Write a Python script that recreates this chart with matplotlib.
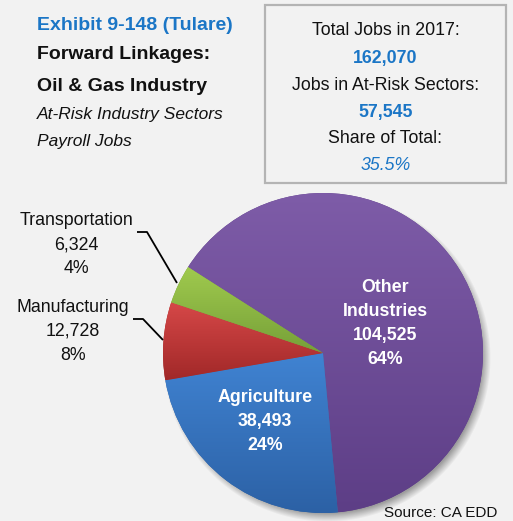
#!/usr/bin/env python3
"""
Pie chart of payroll jobs in at-risk sectors (forward linkages, oil & gas),
Tulare county, with a summary box on the top right.
"""
import numpy as np
import matplotlib
matplotlib.use('Agg')
import matplotlib.pyplot as plt
from matplotlib.colors import LinearSegmentedColormap
from matplotlib.patches import Rectangle

# --- data -------------------------------------------------------------
sectors = ['Other\nIndustries', 'Agriculture', 'Manufacturing', 'Transportation']
jobs = [104525, 38493, 12728, 6324]
pct_labels = ['64%', '24%', '8%', '4%']

total_jobs = 162070
at_risk_jobs = 57545
at_risk_share = '35.5%'
year = 2017

# slice colours (top of slice -> bottom of slice)
top_colors = ['#7e5ca8', '#4083d2', '#d64848', '#a0ca4e']
bottom_colors = ['#5d3e86', '#2c61a5', '#a12828', '#76a038']

BG = '#f2f2f2'
BLUE = '#1b76c6'
INK = '#111111'
FONT = 'Liberation Sans'
BODY = 12.8


def main():
    W, H = 513, 521
    fig = plt.figure(figsize=(W / 100, H / 100), dpi=100, facecolor=BG)
    ax = fig.add_axes([0, 0, 1, 1])
    ax.set_facecolor(BG)

    def Y(y):
        # work in pixel rows measured from the top
        return H - y

    cx, cy, r = 323, Y(353), 160

    # soft drop shadow behind the pie
    yy, xx = np.mgrid[0:H, 0:W] + 0.5
    d = np.hypot(xx - (cx + 4), yy - (cy - 5))
    shadow = np.zeros((H, W, 4))
    shadow[..., 3] = np.clip((r + 4 - d) / 9.0, 0, 1) * 0.35
    ax.imshow(shadow, extent=[0, W, 0, H], origin='lower', zorder=1,
              interpolation='bilinear')

    wedges, _ = ax.pie(jobs, center=(cx, cy), radius=r, startangle=147.5,
                       counterclock=False, colors=bottom_colors,
                       wedgeprops=dict(linewidth=0), frame=True)

    # vertical gradient fill for each slice
    grad = np.linspace(0, 1, 256).reshape(-1, 1)
    for w, c0, c1 in zip(wedges, bottom_colors, top_colors):
        w.set_zorder(2)
        ext = w.get_path().get_extents()
        cmap = LinearSegmentedColormap.from_list('g', [c0, c1])
        im = ax.imshow(grad, cmap=cmap, origin='lower', aspect='auto',
                       extent=[ext.x0, ext.x1, ext.y0, ext.y1], zorder=3)
        im.set_clip_path(w)

    def line(x, y, s, size=BODY, weight='normal', style='normal',
             color=INK, ha='center'):
        ax.text(x, Y(y), s, fontsize=size, fontweight=weight, fontstyle=style,
                color=color, ha=ha, va='baseline', family=FONT, zorder=5)

    # title block
    line(37, 30, 'Exhibit 9-148 (Tulare)', 14, 'bold', color=BLUE, ha='left')
    line(37, 59, 'Forward Linkages:', 14, 'bold', ha='left')
    line(37, 91, 'Oil & Gas Industry', 14, 'bold', ha='left')
    line(37, 119, 'At-Risk Industry Sectors', 12.5, style='italic', ha='left')
    line(37, 146, 'Payroll Jobs', 12.5, style='italic', ha='left')

    # summary box
    ax.add_patch(Rectangle((265, Y(183)), 241, 178, facecolor=BG,
                           edgecolor='#b4b4b4', linewidth=1.6, zorder=4))
    bx = 385.5
    line(bx, 35, f'Total Jobs in {year}:')
    line(bx, 63, f'{total_jobs:,}', BODY, 'bold', color=BLUE)
    line(bx, 90, 'Jobs in At-Risk Sectors:')
    line(bx, 117, f'{at_risk_jobs:,}', BODY, 'bold', color=BLUE)
    line(bx, 143, 'Share of Total:')
    line(bx, 170, at_risk_share, BODY, style='italic', color=BLUE)

    # labels inside the big slices
    other = sectors[0].split('\n') + [f'{jobs[0]:,}', pct_labels[0]]
    for s, yb in zip(other, [292, 316, 340, 364]):
        line(385, yb, s, BODY, 'bold', color='white')
    agri = [sectors[1], f'{jobs[1]:,}', pct_labels[1]]
    for s, yb in zip(agri, [402, 426, 450]):
        line(265, yb, s, BODY, 'bold', color='white')

    # outside labels with leader lines
    trans = [sectors[3], f'{jobs[3]:,}', pct_labels[3]]
    for s, yb in zip(trans, [225, 249, 273]):
        line(76, yb, s)
    manu = [sectors[2], f'{jobs[2]:,}', pct_labels[2]]
    for s, yb in zip(manu, [312, 336, 360]):
        line(73, yb, s)
    ax.plot([137, 147, 177], [Y(232), Y(232), Y(283)], color='black',
            lw=1.3, zorder=6, solid_capstyle='butt')
    ax.plot([133, 143, 163], [Y(319), Y(319), Y(340)], color='black',
            lw=1.3, zorder=6, solid_capstyle='butt')

    line(497, 517, 'Source: CA EDD', 11, ha='right')

    ax.set_xlim(0, W)
    ax.set_ylim(0, H)
    ax.set_aspect('auto')
    ax.axis('off')

    fig.savefig('out.png', dpi=100, facecolor=BG)


if __name__ == '__main__':
    main()
